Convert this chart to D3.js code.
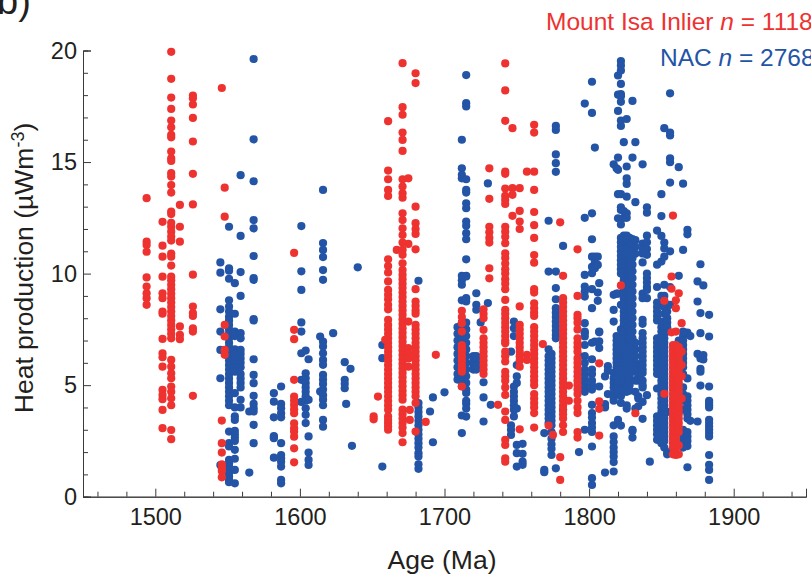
<!DOCTYPE html>
<html>
<head>
<meta charset="utf-8">
<script src="https://cdn.jsdelivr.net/npm/d3@7"></script>
<style>
  html, body { margin: 0; padding: 0; background: #fff; overflow: hidden; }
  svg { display: block; }
  text { font-family: "Liberation Sans", Arial, sans-serif; }
</style>
</head>
<body>
<div id="graph"></div>
<script>
// values, column by column (age in Ma, heat production in uW/m3)
var nacAges = [1545, 1551, 1555, 1559, 1565, 1568, 1582, 1587, 1601, 1604, 1606, 1614, 1616, 1623, 1631, 1632, 1635, 1636, 1640, 1657, 1682, 1690, 1692, 1700, 1709, 1712, 1715, 1720, 1722, 1725, 1727, 1730, 1732, 1746, 1748, 1750, 1754, 1769, 1772, 1774, 1777, 1782, 1793, 1797, 1802, 1804, 1806, 1807, 1811, 1813, 1817, 1819, 1820, 1822, 1824, 1826, 1828, 1830, 1832, 1834, 1837, 1840, 1842, 1847, 1850, 1852, 1854, 1856, 1862, 1865, 1868, 1870, 1875, 1877, 1879, 1883];
var nacHeat = [
  [10.5, 10.04, 8.4, 7.4, 6.58, 5.31, 1.42],
  [12.1, 10.24, 10.13, 9.77, 8.8, 8.52, 8.3, 8.07, 7.9, 7.7, 7.5, 7.3, 7.1, 6.9, 6.7, 6.5, 6.3, 6.1, 5.9, 5.7, 5.5, 5.3, 5.1, 4.9, 4.7, 4.5, 4.3, 4.1, 2.92, 2.4, 2.25, 1.65, 1.5, 1.35, 1.2, 1.05, 0.9, 0.75, 0.65],
  [9.57, 8.2, 7.4, 7.2, 6.6, 6.4, 6.2, 6.0, 5.8, 5.6, 4.64, 4.0, 3.6, 3.44, 2.95, 2.8, 2.65, 2.5, 2.1, 1.7, 1.2, 0.6],
  [14.41, 11.69, 10.07, 9.0, 7.33, 7.1, 6.58, 6.4, 6.2, 6.0, 5.8, 5.5, 5.3, 5.1, 4.9, 4.34, 4.0],
  [3.82, 1.08],
  [19.62, 16.02, 14.14, 12.4, 12.03, 10.79, 9.8, 9.72, 7.96, 7.9, 6.16, 5.46, 5.09, 4.52, 4.16, 3.96, 3.82, 3.22, 2.4],
  [4.64, 4.26, 3.56, 2.72, 2.68, 2.62, 1.75],
  [4.94, 4.16, 3.96, 3.74, 3.56, 2.4, 1.87, 1.72, 1.57, 1.35, 0.75, 0.6],
  [12.13, 10.1, 9.27, 7.81, 7.4, 6.43, 5.24, 4.25],
  [6.55, 5.53, 5.31, 5.1, 4.9, 4.7, 4.5, 4.3, 3.96, 3.67, 3.3],
  [6.16, 4.34, 2.7, 1.98, 1.65, 1.42],
  [7.18, 4.71],
  [13.75, 11.37, 11.06, 10.74, 10.16, 9.72, 6.95, 6.73, 6.43, 6.13, 5.91, 5.46, 5.25, 5.05, 4.8, 4.55, 4.35, 4.1, 3.44, 3.14],
  [7.33],
  [6.03, 5.24, 5.06, 4.86],
  [4.16],
  [5.73],
  [2.28],
  [10.28],
  [6.8, 6.21, 1.35],
  [9.68, 4.2, 4.0, 3.8, 3.6, 3.4, 3.2, 3.0, 2.8, 2.6, 2.4, 2.2, 1.95, 1.8, 1.45, 1.25],
  [3.82],
  [4.45, 2.44],
  [4.68],
  [7.6, 7.3, 7.0, 6.7, 6.4, 6.1, 5.8, 5.5, 5.25],
  [16.0, 14.72, 14.43, 14.27, 9.9, 9.7, 9.5, 8.8, 7.8, 7.5, 7.2, 7.0, 6.8, 6.6, 6.4, 6.2, 6.0, 5.8, 5.6, 5.4, 5.2, 4.95, 3.64, 2.85],
  [18.9, 17.64, 17.49, 14.23, 13.75, 13.63, 13.15, 12.93, 12.33, 12.14, 11.81, 11.54, 10.64, 9.9, 9.87, 8.9, 8.75, 7.8, 7.5, 7.2, 6.9, 6.6, 6.3, 6.0, 5.7, 5.4, 5.1, 4.8, 4.65, 4.3, 4.17, 3.95, 3.59],
  [6.3, 6.1, 5.95, 5.8, 5.7],
  [9.12, 8.6, 8.38, 6.3, 6.1, 5.9, 5.7],
  [7.81],
  [5.13, 4.45, 3.37],
  [14.04, 8.68],
  [4.12],
  [6.5, 3.2, 3.0, 2.77],
  [7.85, 7.55, 7.2, 4.94, 4.7, 4.5, 4.3, 4.1, 3.9, 3.6],
  [5.9, 5.39, 5.1, 3.95, 2.32, 1.95, 1.35],
  [2.37, 1.92, 1.57, 1.43],
  [2.85, 1.2, 1.1],
  [12.37, 10.09, 6.6, 6.3, 6.1, 5.9, 5.7, 5.5, 5.3, 5.1, 4.9, 4.7, 4.5, 4.3, 4.1, 3.9, 3.7, 3.5, 3.3],
  [6.4, 6.2, 6.0, 5.8, 5.6, 5.4, 5.2, 5.0, 4.8, 4.6, 4.4, 4.2, 4.0, 3.8, 3.6, 3.4, 3.2, 2.9, 2.6, 2.35, 2.15, 1.87],
  [16.62, 16.44, 15.34, 14.95, 14.56, 10.09, 9.35, 8.85, 8.45, 8.25, 8.05, 7.85, 7.65, 7.45, 7.25, 7.1, 1.27],
  [11.24, 3.9],
  [2.0, 6.3, 5.4, 5.1],
  [17.62, 12.5, 9.94, 9.42, 9.2, 8.97, 7.78, 7.4, 7.33, 7.18, 6.8, 6.3, 6.0, 5.7, 5.5, 5.3, 5.05, 4.85, 4.7, 3.0],
  [18.6, 17.2, 12.7, 11.54, 10.76, 10.3, 10.02, 9.3, 8.45, 6.9, 6.16, 5.7, 5.5, 5.2, 5.0, 4.8, 4.12, 3.75, 3.55, 3.3, 3.1, 2.9, 2.25, 0.83, 0.53],
  [15.65, 10.76, 10.5, 10.24, 6.95],
  [10.76, 10.39, 9.15, 8.78],
  [9.57, 7.4, 7.37, 6.96, 6.66, 4.94],
  [5.39, 1.08, 4.0, 4.15],
  [5.85, 5.65, 4.6],
  [14.9, 9.05, 8.37, 7.85, 5.55, 5.3, 5.1, 4.9, 4.65, 4.45, 4.3, 3.2, 2.7, 2.45, 2.2, 2.0, 1.8, 1.55, 1.13],
  [14.72, 9.1, 7.2, 7.0, 6.8, 6.6, 6.4, 6.2, 6.0, 5.8, 5.6, 5.3, 5.1, 4.9],
  [18.88, 18.02, 17.29, 15.2, 14.65, 13.56, 12.48, 9.1, 7.15, 6.9, 6.7, 6.5, 6.3, 6.1, 5.9, 5.7, 5.5, 5.3, 5.1, 4.9, 4.7, 3.44],
  [19.53, 19.33, 19.1, 18.5, 18.05, 17.95, 17.7, 16.86, 16.62, 13.56, 12.97, 12.85, 12.2, 11.6, 11.4, 11.2, 11.0, 10.8, 10.6, 10.4, 10.2, 10.0, 8.6, 7.5, 7.2, 6.9, 6.6, 6.3, 6.0, 5.7, 5.4, 5.1, 4.8, 4.5, 4.2, 3.19],
  [15.89, 12.8, 12.5, 11.7, 11.5, 11.3, 11.1, 10.9, 10.7, 10.5, 10.3, 10.1, 9.9, 9.7, 9.5, 9.3, 9.1, 8.9, 8.7, 8.5, 8.3, 8.1, 7.9, 7.7, 7.5, 7.3, 7.1, 6.9, 6.7, 6.5, 6.3, 6.1, 5.9, 5.7, 5.5, 5.3, 5.1, 4.9, 4.7],
  [16.93, 14.8, 14.27, 14.02, 13.45, 12.7, 12.5, 11.7, 11.5, 11.3, 11.1, 10.9, 10.7, 10.5, 10.3, 10.1, 9.9, 9.7, 9.5, 9.3, 9.1, 8.9, 8.7, 8.5, 8.3, 8.1, 7.9, 7.7, 7.5, 7.3, 7.1, 6.9, 6.7, 6.5, 6.3, 6.1, 5.9, 5.7, 5.5, 5.3, 5.1, 4.9, 4.7, 4.1, 3.95],
  [11.6, 11.4, 11.2, 11.0, 10.8, 10.6, 10.4, 10.2, 10.0, 9.8, 9.6, 9.4, 9.2, 9.0, 8.8, 8.6, 8.4, 8.2, 8.0, 7.8, 7.6, 7.4, 7.2, 7.0, 6.8, 6.6, 6.4, 6.2, 6.0, 5.8, 5.6, 5.4, 5.2, 5.0, 4.75],
  [17.74, 15.2, 11.55, 11.3, 11.0, 10.7, 10.4, 10.1, 9.8, 9.5, 9.2, 8.9, 8.6, 8.3, 8.0, 7.7, 7.4, 7.1, 6.8, 6.5, 6.2, 5.9, 5.6, 3.0, 2.95, 2.65],
  [15.89, 13.2, 11.5, 11.2, 10.9, 6.9, 6.6, 6.3, 6.0, 5.7, 5.2, 4.7, 3.95],
  [5.9, 5.7, 5.4, 5.2, 4.5, 4.4, 4.05],
  [14.9, 11.35, 11.1, 10.9, 10.5, 9.1, 8.9, 7.93, 7.75, 7.33, 7.1, 6.9, 6.7, 6.5, 6.3, 6.1, 5.9, 5.7, 5.54, 5.2, 5.0, 4.9, 4.25, 3.49],
  [12.97, 12.73, 11.7, 11.4, 11.1, 10.84, 10.0, 9.8, 9.6, 9.4, 9.27, 8.9, 4.55],
  [1.57],
  [11.93, 10.4, 9.4, 8.7, 8.5, 8.3, 8.1, 7.9, 7.1, 6.9, 6.7, 6.5, 6.3, 6.1, 5.9, 5.7, 5.5, 4.85, 3.6, 3.4, 3.2, 3.0, 2.8, 2.55],
  [13.56, 12.58, 11.69, 10.54, 9.0, 8.6, 7.85, 7.6, 7.4, 7.2, 7.0, 6.8, 6.6, 6.4, 6.2, 6.0, 5.8, 5.6, 5.4, 5.2, 5.0, 4.8, 4.6, 4.4, 4.2, 4.0, 3.8, 3.6, 3.4, 3.2, 3.0, 2.8, 2.6, 2.4],
  [16.52, 11.39, 11.13, 10.76, 9.5, 9.0, 8.75, 8.5, 8.2, 7.7, 7.5, 7.3, 7.1, 6.9, 6.7, 6.5, 6.3, 6.1, 5.9, 5.7, 5.5, 5.3, 5.1, 4.9, 4.7, 4.5, 4.3, 4.1, 3.9, 3.7, 3.5, 3.3, 3.1, 2.9, 2.7, 2.5, 2.2],
  [8.3, 8.0, 7.8, 7.6, 7.4, 3.8, 2.0, 1.9],
  [18.08, 16.32, 16.19, 15.17, 14.99, 14.08, 11.0, 9.4, 8.6],
  [14.77, 9.9, 7.0, 6.8, 6.5, 6.3, 4.0],
  [14.03, 11.06, 7.4, 7.2, 7.0, 6.8, 6.6, 6.4, 6.2, 6.0, 5.8, 5.5, 4.9, 4.6, 4.3, 3.9, 3.0, 2.8, 2.6, 2.4, 2.2],
  [11.96, 11.76, 7.35, 5.3, 4.5, 4.3, 4.1, 3.9, 3.7, 3.5, 2.9, 2.7, 2.5, 2.27, 1.32],
  [7.2, 3.4],
  [9.65, 8.75, 6.4, 3.37],
  [10.42, 8.23, 7.33, 6.2, 5.73, 5.6, 4.98],
  [9.47, 6.35, 6.15],
  [8.15, 7.18, 4.94, 4.3, 4.2, 4.1, 4.0, 3.45, 3.3, 3.15, 3.0, 2.85, 2.7, 1.87, 1.43, 1.2, 0.75]
];

var isaAges = [1494, 1505, 1511, 1517, 1526, 1546, 1548, 1596, 1651, 1654, 1659, 1661, 1667, 1671, 1675, 1676, 1680, 1687, 1694, 1712, 1727, 1731, 1737, 1742, 1747, 1752, 1757, 1762, 1768, 1772, 1775, 1780, 1782, 1786, 1792, 1807, 1822, 1832, 1852, 1857, 1858, 1860, 1862, 1864];
var isaHeat = [
  [13.38, 11.43, 11.28, 10.98, 9.83, 9.42, 9.12, 8.9, 8.6],
  [12.32, 11.25, 10.76, 9.86, 9.12, 8.9, 8.3, 8.2, 7.07, 6.43, 6.25, 5.83, 4.79, 4.56, 4.37, 3.89, 3.07],
  [19.94, 18.73, 17.89, 17.38, 16.86, 16.56, 16.22, 16.11, 15.47, 15.17, 15.05, 14.5, 14.35, 13.97, 13.63, 12.78, 12.67, 12.28, 12.1, 11.88, 11.66, 11.48, 10.9, 10.76, 10.36, 9.86, 9.7, 9.5, 9.3, 9.1, 8.9, 8.7, 8.5, 8.3, 8.1, 7.9, 7.7, 7.5, 7.3, 7.1, 6.13, 5.83, 5.53, 5.31, 4.94, 4.7, 4.41, 4.1, 2.99, 2.58],
  [13.08, 12.1, 11.43, 7.63, 7.25, 7.06],
  [17.98, 17.86, 17.58, 16.98, 15.92, 14.47, 13.1, 9.95, 8.52, 8.23, 8.1, 7.55, 7.4, 4.52],
  [18.32, 3.41, 2.4, 1.98, 1.45, 1.27, 1.15, 0.87],
  [13.85, 12.55, 7.7, 7.18, 6.58, 6.36],
  [10.93, 7.48, 7.06, 5.24, 4.49, 4.31, 4.12, 3.92, 3.74, 3.29, 3.07, 2.92, 2.69, 2.17, 1.54],
  [3.6, 3.47],
  [4.49],
  [7.03],
  [16.83, 14.62, 14.23, 13.75, 13.48, 10.64, 10.34, 10.05, 9.65, 9.27, 9.05, 8.85, 8.6, 8.4, 7.93, 7.7, 7.5, 7.3, 7.1, 6.9, 6.7, 6.5, 6.3, 6.1, 5.9, 5.7, 5.5, 5.3, 5.1, 4.9, 4.7, 4.5, 4.3, 4.1, 3.9, 3.6, 3.45, 3.3, 3.15, 3.0],
  [11.06],
  [19.43, 17.46, 17.12, 16.32, 15.99, 15.5, 14.23, 13.9, 13.6, 13.4, 12.7, 12.4, 12.03, 11.73, 11.39, 11.06, 10.84, 10.46, 10.16, 9.95, 9.75, 9.55, 9.35, 9.15, 8.95, 8.75, 8.55, 8.35, 8.15, 7.95, 7.75, 7.55, 7.35, 7.15, 6.95, 6.75, 6.55, 6.35, 6.15, 5.95, 5.75, 5.55, 5.35, 5.15, 4.95, 4.75, 4.55, 4.35, 3.9, 3.7, 3.5, 3.3, 3.1, 2.85, 2.44],
  [14.27, 11.33, 7.85, 6.66, 6.43, 6.2, 5.83],
  [3.89, 3.44],
  [18.98, 18.54, 13.0, 12.26, 12.0, 11.78, 11.09, 9.3, 8.75, 8.55, 8.35, 8.2, 7.7, 7.5, 7.3, 7.1, 6.9, 6.7, 6.5, 6.3, 6.1, 5.9, 5.7, 5.5, 5.3, 5.1, 4.9, 4.7, 4.5, 4.2, 2.92],
  [3.35],
  [6.36],
  [8.33, 8.05, 7.78, 7.4, 6.8, 6.65, 6.5, 6.3, 6.1, 5.9, 5.75, 5.6, 4.94],
  [8.4, 8.2, 8.0, 7.48, 7.1, 6.9, 6.7, 6.5, 6.3, 6.1, 5.9, 5.7, 5.5],
  [14.72, 13.35, 12.1, 11.85, 11.6, 11.39, 10.24, 9.79],
  [4.12],
  [19.42, 18.21, 16.85, 14.57, 14.47, 13.81, 13.48, 13.3, 13.12, 12.1, 11.88, 11.65, 11.36, 10.91, 10.7, 10.45, 10.2, 10.0, 9.75, 9.55, 9.3, 8.82, 8.38, 8.2, 8.0, 7.8, 7.6, 7.4, 7.2, 7.0, 6.88, 6.5, 6.3, 6.06, 5.6, 5.4, 5.2, 4.9, 4.56, 3.82, 3.44, 2.55, 2.32, 1.72, 1.57],
  [16.52, 13.83, 13.53, 12.59],
  [13.83, 12.81, 12.33, 12.0, 8.53, 7.7, 7.5, 7.3, 7.1, 6.9, 6.7, 6.5, 6.3, 6.1, 5.83, 3.02],
  [14.57, 6.36, 6.13],
  [16.67, 16.32, 14.57, 13.75, 12.76, 12.17, 11.6, 10.83, 10.49, 9.3, 9.15, 8.67, 8.45, 8.25, 8.1, 7.6, 7.4, 7.2, 7.0, 6.8, 6.6, 6.4, 6.2, 6.0, 5.8, 5.6, 5.4, 5.2, 5.0, 4.6, 4.4, 4.2, 4.0, 3.75, 3.1],
  [6.84],
  [3.19],
  [2.77],
  [12.3, 1.77, 0.75],
  [9.9, 8.9, 8.7, 8.5, 8.3, 8.1, 7.9, 7.7, 7.5, 7.3, 7.1, 6.9, 6.7, 6.5, 6.3, 6.1, 5.9, 5.7, 5.5, 5.3, 5.1, 4.9, 4.7, 4.5, 4.3, 4.1, 3.9, 3.7, 3.5, 3.2, 2.9],
  [4.98, 4.3],
  [11.09, 9.0, 8.15, 8.0, 7.8, 7.5, 7.1, 6.9, 6.7, 6.5, 6.2, 6.0, 5.8, 5.6, 5.4, 5.2, 5.0, 4.8, 4.6, 4.3, 4.0, 3.75, 2.9, 2.65],
  [5.98, 4.27, 3.94, 2.74],
  [9.47],
  [3.74],
  [8.78, 4.61],
  [9.87, 9.32, 7.37],
  [12.6, 6.8, 6.6, 6.4, 6.2, 6.0, 5.8, 5.6, 5.4, 5.2, 5.0, 4.8, 4.6, 4.4, 4.2, 4.0, 3.8, 3.6, 3.4, 3.2, 3.0, 2.8, 2.6, 2.4, 2.2, 1.9],
  [8.8, 8.45, 7.4, 6.8, 6.6, 6.4, 6.2, 6.0, 5.8, 5.6, 5.4, 5.2, 5.0, 4.8, 4.6, 4.4, 4.2, 4.0, 3.8, 3.6, 3.4, 3.2, 3.0, 2.8, 2.6, 2.4, 2.2, 2.0, 1.87],
  [9.12, 6.7, 6.5, 6.3, 6.1, 5.9, 5.7, 5.5, 5.3, 5.1, 4.9, 4.7, 4.5, 4.3, 4.1, 3.9, 3.7, 3.5, 3.3, 3.1, 2.9, 2.3, 1.9],
  [7.78, 6.5, 5.9, 5.4, 4.4]
];

var xMajor = [1500, 1600, 1700, 1800, 1900];
var xMinor = [1460, 1480, 1520, 1540, 1560, 1580, 1620, 1640, 1660, 1680, 1720, 1740, 1760, 1780, 1820, 1840, 1860, 1880, 1920, 1940];
var yMajor = [0, 5, 10, 15, 20];
var yMinor = [1, 2, 3, 4, 6, 7, 8, 9, 11, 12, 13, 14, 16, 17, 18, 19];

var red = "#ee3230", blue = "#2354a6", ink = "#231f20";
var width = 811, height = 576;

var svg = d3.select("#graph")
  .append("svg")
    .attr("width", width)
    .attr("height", height);

var x = d3.scaleLinear().domain([1450, 1950]).range([83, 806]);
var y = d3.scaleLinear().domain([0, 20]).range([496.7, 50.5]);

// turn the column arrays into flat points
function flatten(ages, heat) {
  var pts = [];
  ages.forEach(function(a, i) {
    heat[i].forEach(function(v) { pts.push([a, v]); });
  });
  return pts;
}

function addDots(pts, color) {
  svg.append("g")
    .selectAll("circle")
    .data(pts)
    .enter()
    .append("circle")
      .attr("cx", function(d) { return x(d[0]); })
      .attr("cy", function(d) { return y(d[1]); })
      .attr("r", 4.1)
      .style("fill", color);
}

addDots(flatten(nacAges, nacHeat), blue);
addDots(flatten(isaAges, isaHeat), red);

// minor ticks, then the labelled ones
svg.append("g")
  .attr("class", "axis")
  .attr("transform", "translate(0," + y(0) + ")")
  .call(d3.axisBottom(x).tickValues(xMinor).tickSize(-5).tickFormat(""));
svg.append("g")
  .attr("class", "axis")
  .attr("transform", "translate(" + x(1450) + ",0)")
  .call(d3.axisLeft(y).tickValues(yMinor).tickSize(-5).tickFormat(""));
svg.append("g")
  .attr("class", "axis major")
  .attr("transform", "translate(0," + y(0) + ")")
  .call(d3.axisBottom(x).tickValues(xMajor).tickSize(-8).tickPadding(12).tickFormat(d3.format("d")));
svg.append("g")
  .attr("class", "axis major")
  .attr("transform", "translate(" + x(1450) + ",0)")
  .call(d3.axisLeft(y).tickValues(yMajor).tickSize(-8).tickPadding(6));

svg.selectAll(".axis path, .axis line").attr("stroke", "#3a3a3c").attr("stroke-width", 1);
svg.selectAll(".axis text").attr("font-size", 23.5).attr("fill", ink)
  .style("font-family", '"Liberation Sans", Arial, sans-serif');

// titles
svg.append("text").attr("x", 442).attr("y", 569).attr("text-anchor", "middle")
  .attr("font-size", 26.5).attr("fill", ink).text("Age (Ma)");

var yLabel = svg.append("text")
  .attr("transform", "translate(33,268) rotate(-90)")
  .attr("text-anchor", "middle")
  .attr("font-size", 26.5).attr("fill", ink);
yLabel.append("tspan").text("Heat production (\u00b5Wm");
yLabel.append("tspan").attr("dy", -9).attr("font-size", 18).text("-3");
yLabel.append("tspan").attr("dy", 9).text(")");

svg.append("text").attr("x", -3).attr("y", 14)
  .attr("font-size", 38).attr("fill", ink).text("b)");

// legend, runs off the right edge like the original
var leg1 = svg.append("text").attr("x", 546).attr("y", 30).attr("font-size", 24.5).attr("fill", red);
leg1.append("tspan").text("Mount Isa Inlier ");
leg1.append("tspan").attr("font-style", "italic").text("n");
leg1.append("tspan").text(" = 1118");

var leg2 = svg.append("text").attr("x", 660).attr("y", 66).attr("font-size", 24.5).attr("fill", blue);
leg2.append("tspan").text("NAC ");
leg2.append("tspan").attr("font-style", "italic").text("n");
leg2.append("tspan").text(" = 2768");
</script>
</body>
</html>
